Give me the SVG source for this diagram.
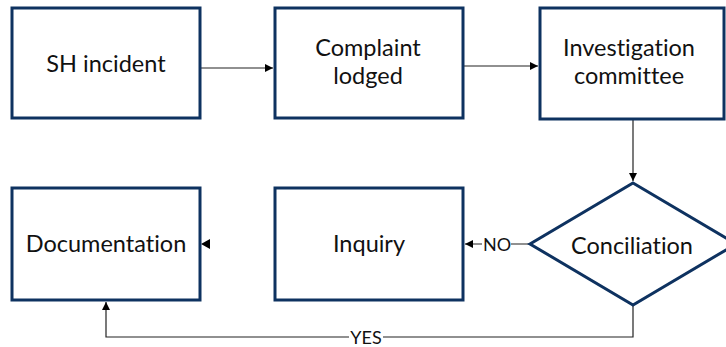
<svg xmlns="http://www.w3.org/2000/svg" width="726" height="347" viewBox="0 0 726 347">
<style>
.box{fill:#fff;stroke:#0e3260;stroke-width:3}
.t{font-family:Lato,"Liberation Sans",sans-serif;font-size:23.5px;fill:#111;text-anchor:middle;font-variant-ligatures:none}
.c{fill:none;stroke:#222;stroke-width:1.2}
.l{font-family:Lato,"Liberation Sans",sans-serif;font-size:18px;fill:#111;text-anchor:middle}
</style>
<defs>
<marker id="ah" viewBox="0 0 10 10" refX="10" refY="5" markerWidth="8" markerHeight="8" markerUnits="userSpaceOnUse" orient="auto">
<path d="M0,0L10,5L0,10z" fill="#000"/>
</marker>
</defs>
<rect width="726" height="347" fill="#fff"/>
<g id="connectors">
<path class="c" d="M200,68H273" marker-end="url(#ah)"/>
<path class="c" d="M463,66H538" marker-end="url(#ah)"/>
<path class="c" d="M633,120V181" marker-end="url(#ah)"/>
<path class="c" d="M530,244H465" marker-end="url(#ah)"/>
<path d="M210,239L201,244L210,249z" fill="#000"/>
<path class="c" d="M633,305V337H106V302" marker-end="url(#ah)"/>
<rect x="482" y="234" width="29" height="20" fill="#fff"/>
<text class="l" x="497" y="251">NO</text>
<rect x="349" y="328" width="34" height="19" fill="#fff"/>
<text class="l" x="366" y="344">YES</text>
</g>
<g id="sh-incident">
<rect class="box" x="12" y="8" width="188" height="110"/>
<text class="t" x="106" y="72">SH incident</text>
</g>
<g id="complaint-lodged">
<rect class="box" x="275" y="8" width="188" height="110"/>
<text class="t" x="368" y="56">Complaint</text>
<text class="t" x="368" y="84">lodged</text>
</g>
<g id="investigation-committee">
<rect class="box" x="540" y="8" width="184" height="111"/>
<text class="t" x="629" y="56">Investigation</text>
<text class="t" x="629" y="84">committee</text>
</g>
<g id="documentation">
<rect class="box" x="12" y="188" width="188" height="112"/>
<text class="t" x="106" y="252">Documentation</text>
</g>
<g id="inquiry">
<rect class="box" x="275" y="188" width="188" height="112"/>
<text class="t" x="369" y="252">Inquiry</text>
</g>
<g id="conciliation">
<path class="box" d="M633,183L736,244L633,305L530,244z"/>
<text class="t" x="632" y="254">Conciliation</text>
</g>
</svg>
